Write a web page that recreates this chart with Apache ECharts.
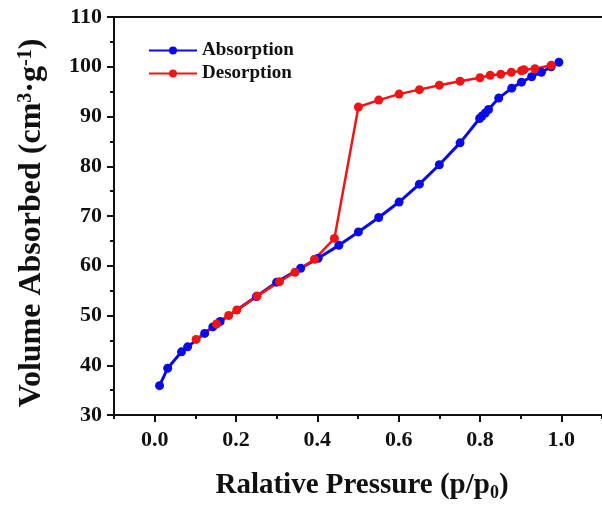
<!DOCTYPE html>
<html>
<head>
<meta charset="utf-8">
<script src="https://cdn.jsdelivr.net/npm/echarts@6/dist/echarts.min.js"></script>
<style>
  html, body { margin: 0; padding: 0; background: #fff; }
  #chart { width: 602px; height: 508px; }
</style>
</head>
<body>
<div id="chart"></div>
<script>
// Absorption branch (p/p0, volume)
const absP = [0.012, 0.032, 0.066, 0.081, 0.123, 0.143, 0.161, 0.25, 0.30, 0.359, 0.402, 0.453, 0.501, 0.551, 0.601, 0.651, 0.70, 0.751, 0.799, 0.805, 0.813, 0.821, 0.846, 0.878, 0.902, 0.927, 0.951, 0.975, 0.994];
const absV = [35.9, 39.4, 42.7, 43.7, 46.4, 47.7, 48.8, 53.8, 56.7, 59.5, 61.5, 64.1, 66.8, 69.7, 72.8, 76.4, 80.3, 84.7, 89.6, 90.1, 90.7, 91.4, 93.7, 95.7, 96.9, 98.0, 98.9, 100.0, 100.9];

// Desorption branch
const desP = [0.975, 0.935, 0.908, 0.902, 0.877, 0.851, 0.825, 0.80, 0.751, 0.70, 0.651, 0.601, 0.551, 0.501, 0.442, 0.393, 0.345, 0.307, 0.252, 0.202, 0.182, 0.152, 0.102];
const desV = [100.3, 99.6, 99.4, 99.2, 98.9, 98.5, 98.3, 97.8, 97.1, 96.3, 95.4, 94.5, 93.3, 91.9, 65.5, 61.3, 58.7, 56.8, 53.9, 51.1, 50.0, 48.3, 45.2];

const xTicks = [0.0, 0.2, 0.4, 0.6, 0.8, 1.0];
const yTicks = [30, 40, 50, 60, 70, 80, 90, 100, 110];

const font = "'Liberation Serif', 'Times New Roman', serif";
const ink = "#111";

const pairs = (xs, ys) => xs.map((x, i) => [x, ys[i]]);

const chart = echarts.init(document.getElementById("chart"));
const option = {
  backgroundColor: "#fff",
  animation: false,
  grid: { left: 114, right: -7, top: 17, bottom: 93 },
  legend: {
    orient: "vertical",
    left: 143,
    top: 36,
    itemWidth: 48,
    itemHeight: 10,
    itemGap: 4,
    data: ["Absorption", "Desorption"],
    textStyle: { fontFamily: font, fontWeight: "bold", fontSize: 19, color: ink }
  },
  xAxis: [
    {
      type: "value",
      position: "bottom",
      min: -0.1,
      max: 1.1,
      interval: 0.1,
      splitLine: { show: false },
      axisLine: { onZero: false, lineStyle: { color: ink, width: 2 } },
      axisTick: { show: true, inside: false, length: 4, lineStyle: { color: ink, width: 2 } },
      axisLabel: {
        customValues: xTicks,
        margin: 14,
        fontFamily: font,
        fontWeight: "bold",
        fontSize: 22,
        color: ink,
        formatter: (v) => v.toFixed(1)
      },
      name: "Ralative Pressure (p/p{sub|0})",
      nameLocation: "middle",
      nameGap: 55,
      nameTextStyle: {
        fontFamily: font,
        fontWeight: "bold",
        fontSize: 29,
        color: ink,
        padding: [0, 0, 0, 8],
        rich: {
          sub: { fontFamily: font, fontWeight: "bold", fontSize: 18, color: ink, verticalAlign: "bottom", padding: [14, 0, 0, 0] }
        }
      }
    },
    {
      type: "value",
      position: "bottom",
      min: -0.1,
      max: 1.1,
      splitLine: { show: false },
      axisLine: { show: false, onZero: false },
      axisTick: { show: true, length: 7, customValues: xTicks, lineStyle: { color: ink, width: 2 } },
      axisLabel: { show: false }
    },
    {
      type: "value",
      position: "top",
      min: -0.1,
      max: 1.1,
      splitLine: { show: false },
      axisLine: { onZero: false, lineStyle: { color: ink, width: 2 } },
      axisTick: { show: false },
      axisLabel: { show: false }
    }
  ],
  yAxis: {
    type: "value",
    min: 30,
    max: 110,
    interval: 10,
    splitLine: { show: false },
    axisLine: { show: true, onZero: false, lineStyle: { color: ink, width: 2 } },
    axisTick: { show: true, inside: false, length: 7, lineStyle: { color: ink, width: 2 } },
    minorTick: { show: true, splitNumber: 2, length: 4, lineStyle: { color: ink, width: 2 } },
    axisLabel: {
      customValues: yTicks,
      margin: 12,
      fontFamily: font,
      fontWeight: "bold",
      fontSize: 22,
      color: ink
    },
    name: "Volume Absorbed (cm{sup|3}·g{sup|-1})",
    nameLocation: "middle",
    nameGap: 66,
    nameTextStyle: {
      fontFamily: font,
      fontWeight: "bold",
      fontSize: 32,
      color: ink,
      padding: [0, 14, 0, 0],
      rich: {
        sup: { fontFamily: font, fontWeight: "bold", fontSize: 20, color: ink, verticalAlign: "top", padding: [0, 0, 12, 0] }
      }
    }
  },
  series: [
    {
      name: "Absorption",
      type: "line",
      xAxisIndex: 0,
      data: pairs(absP, absV),
      symbol: "circle",
      symbolSize: 9,
      color: "#0a0ae6",
      lineStyle: { width: 3, color: "#0a0ae6" },
      itemStyle: { color: "#0a0ae6" }
    },
    {
      name: "Desorption",
      type: "line",
      xAxisIndex: 0,
      data: pairs(desP, desV),
      symbol: "circle",
      symbolSize: 9,
      color: "#f01414",
      lineStyle: { width: 2.5, color: "#f01414" },
      itemStyle: { color: "#f01414" }
    }
  ]
};
chart.setOption(option);
</script>
</body>
</html>
